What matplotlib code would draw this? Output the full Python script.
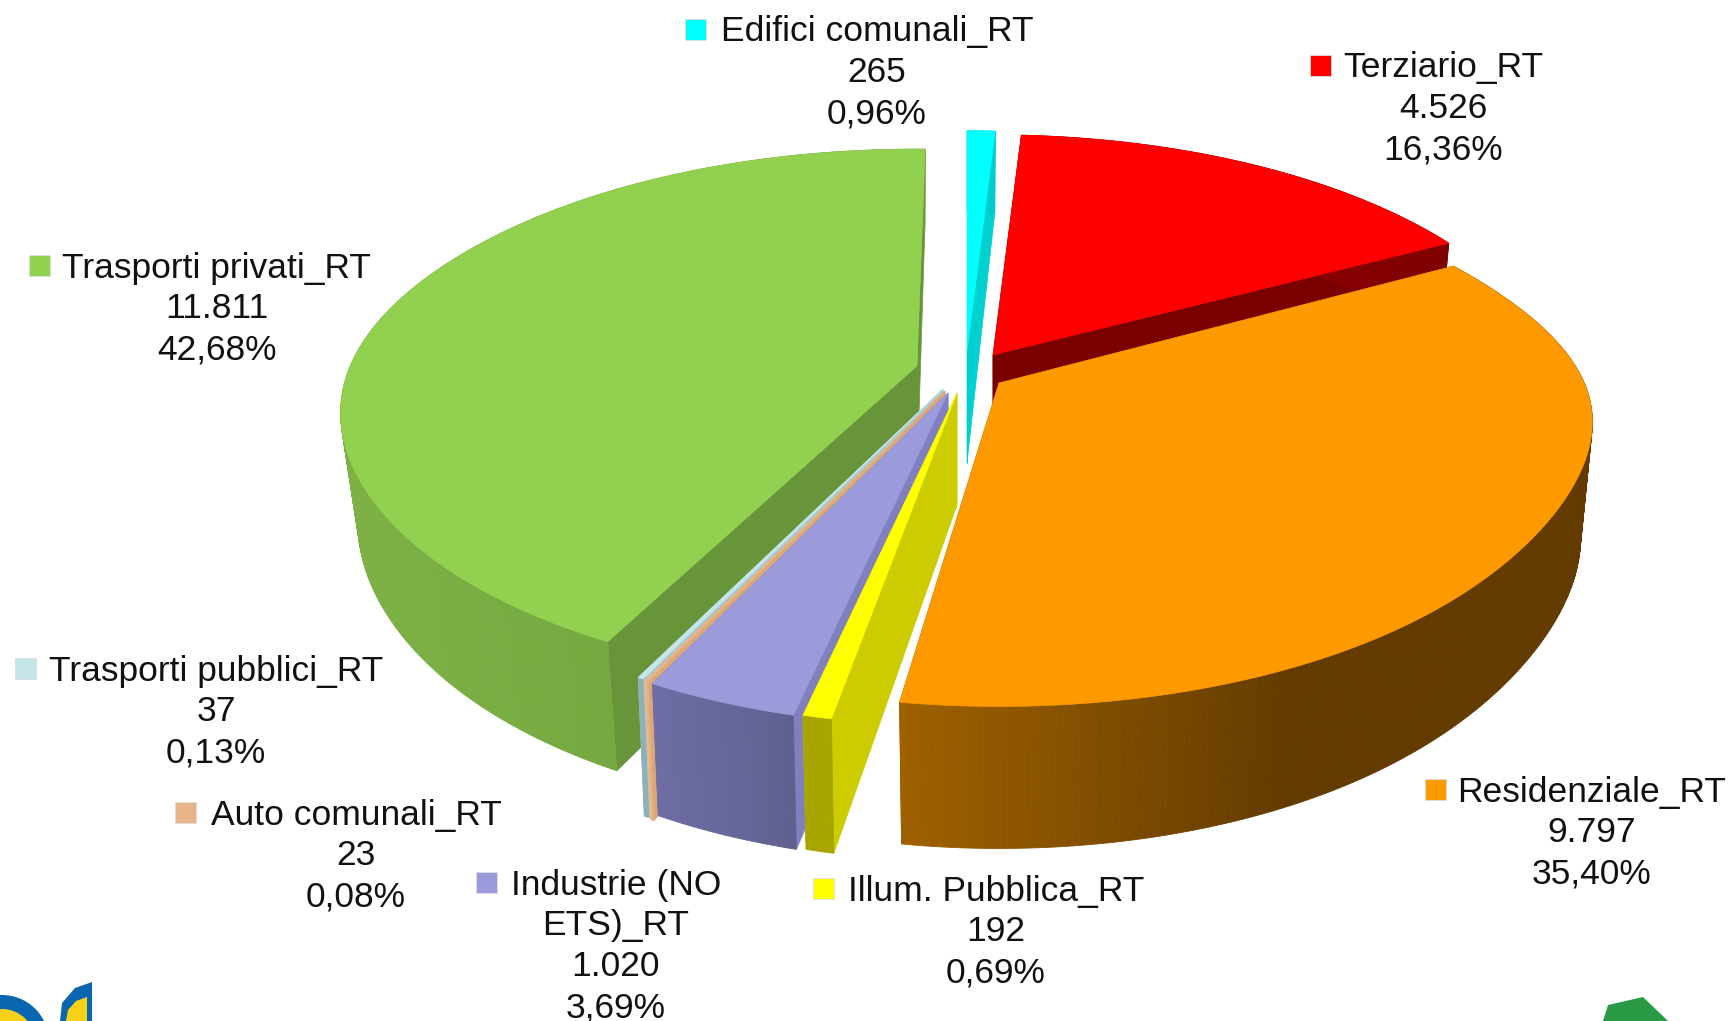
import numpy as np
import matplotlib
matplotlib.use("Agg")
import matplotlib.pyplot as plt
from matplotlib.collections import PolyCollection
from matplotlib.patches import Polygon, Circle, Rectangle
from matplotlib.colors import to_rgb

# ---- data (clockwise from 12 o'clock) ----
names = ["Edifici comunali_RT", "Terziario_RT", "Residenziale_RT", "Illum. Pubblica_RT",
         "Industrie (NO\nETS)_RT", "Auto comunali_RT", "Trasporti pubblici_RT", "Trasporti privati_RT"]
values = [265, 4526, 9797, 192, 1020, 23, 37, 11811]
value_labels = ["265", "4.526", "9.797", "192", "1.020", "23", "37", "11.811"]
pct_labels = ["0,96%", "16,36%", "35,40%", "0,69%", "3,69%", "0,08%", "0,13%", "42,68%"]

# ---- styles ----
top_col = ["#00ffff", "#ff0000", "#ff9900", "#ffff00", "#9b9bdc", "#e8b48a", "#c5e6e8", "#92d050"]
wall_l = ["#00cccc", "#990000", "#a06100", "#a8a400", "#6e6ea6", "#f5c08f", "#8fb0b5", "#7db145"]
wall_r = ["#00cccc", "#800000", "#633b00", "#a8a400", "#606090", "#e8b080", "#8fb0b5", "#6e9e3c"]
cut_col = ["#00d0d0", "#7a0000", "#995c00", "#cccc00", "#8080c0", "#d8a878", "#a8ccd0", "#68943a"]
apex = [(967, 351), (993, 355), (999, 383), (957, 393), (948, 393), (945, 391), (943, 389), (917, 366)]
rot = [-1.0, -1.0, -2.5, 0, 0, 0, 0, 0]
a_scale = [1, 1, 1, 0.975, 0.98, 0.985, 0.985, 1]
b_scale = [1, 1, 1, 1.03, 1.03, 1.03, 1.03, 0.985]
bulge = [0, 0, 0.045, 0, 0, 0, 0, 0.012]
h_scale = [1, 1, 1, 0.95, 0.95, 1, 1, 0.93]
x_shrink = [0.02, 0.02, 0.02, 0.02, 0.02, 0.02, 0.02, 0.03]
draw_order = [1, 7, 0, 6, 5, 4, 3, 2]
label_xy = [(877, 32), (1443, 68), (1592, 792), (996, 891), (616, 885), (356, 815), (216, 671), (217, 268)]
square_x = [696, 1321, 1436, 824, 487, 186, 26, 40]
line_h = 40.9
A, B, P = 560.0, 262.0, 0.19


def project(theta_deg, i, level):
    """theta clockwise from north; level 0 = top rim, 1 = bottom rim"""
    t = np.radians(theta_deg)
    X, Y = np.sin(t), np.cos(t)
    den = 1 + P * Y
    dx = A * a_scale[i] * X / den * (1 + bulge[i] * X ** 8)
    dy = -B * b_scale[i] * Y / den
    h = (112 - 30 * Y) * h_scale[i]
    return apex[i][0] + dx * (1 - x_shrink[i] * level), apex[i][1] + dy + h * level


fig = plt.figure(figsize=(17.33, 10.21), dpi=100)
ax = fig.add_axes([0, 0, 1, 1])
ax.set_xlim(0, 1733)
ax.set_ylim(1021, 0)
ax.axis("off")

fractions = np.array(values, float) / np.sum(values)
edges = 1.0 + 360 * np.concatenate([[0], np.cumsum(fractions)])

for i in draw_order:
    t0, t1 = edges[i] + rot[i], edges[i + 1] + rot[i]
    ax0, ay0 = apex[i]
    apex_bottom = (ax0, ay0 + 112)
    n = max(int((t1 - t0) * 2), 3)
    th = np.linspace(t0, t1, n + 1)
    xt, yt = project(th, i, 0)
    xb, yb = project(th, i, 1)
    z = 2 + draw_order.index(i)
    # radial cut faces
    for idx in (0, -1):
        ax.add_patch(Polygon([(ax0, ay0), (xt[idx], yt[idx]), (xb[idx], yb[idx]), apex_bottom],
                             closed=True, fc=cut_col[i], ec=cut_col[i], lw=0.5, zorder=z))
    # outer wall with horizontal shading
    polys, cols = [], []
    span = max(xt.max() - xt.min(), 1)
    c0, c1 = np.array(to_rgb(wall_l[i])), np.array(to_rgb(wall_r[i]))
    for k in np.argsort(np.cos(np.radians(th[:-1])))[::-1]:
        polys.append([(xt[k], yt[k]), (xt[k + 1], yt[k + 1]), (xb[k + 1], yb[k + 1]), (xb[k], yb[k])])
        u = np.clip((xt[k] - xt.min()) / span * (1.75 if i == 2 else 1.0), 0, 1)
        cols.append(c0 * (1 - u) + c1 * u)
    ax.add_collection(PolyCollection(polys, facecolors=cols, edgecolors=cols, linewidths=0.6, zorder=z))
    # top face
    ax.add_patch(Polygon(np.vstack([[ax0, ay0], np.column_stack([xt, yt])]), closed=True,
                         fc=top_col[i], ec=top_col[i], lw=0.4, zorder=z))

# labels
for i in range(len(names)):
    lines = names[i].split("\n") + [value_labels[i], pct_labels[i]]
    cx, cy = label_xy[i]
    for j, s in enumerate(lines):
        ax.text(cx, cy + j * line_h, s, ha="center", va="center", fontsize=25.5,
                family="Liberation Sans", color="#111111", zorder=30)
    ax.add_patch(Rectangle((square_x[i] - 10.5, cy - 13), 21, 21, fc=top_col[i], ec="#dddddd",
                           lw=0.6, zorder=30))

# partial logos at the bottom edge
ax.add_patch(Circle((2, 1042), 47, fc="#0a66b0", ec="none", zorder=1))
ax.add_patch(Circle((2, 1042), 33, fc="#f7d117", ec="none", zorder=1))
ax.add_patch(Polygon([(92, 982), (92, 1021), (60, 1021), (62, 1003), (75, 988)], closed=True,
                     fc="#0a66b0", ec="none", zorder=1))
ax.add_patch(Polygon([(87, 997), (87, 1021), (66, 1021), (68, 1010), (76, 1001)], closed=True,
                     fc="#f7d117", ec="none", zorder=1))
ax.add_patch(Polygon([(1608, 1005), (1643, 997), (1668, 1021), (1603, 1021)], closed=True,
                     fc="#2a9a46", ec="none", zorder=1))

fig.savefig("out.png", dpi=100, facecolor="white")
